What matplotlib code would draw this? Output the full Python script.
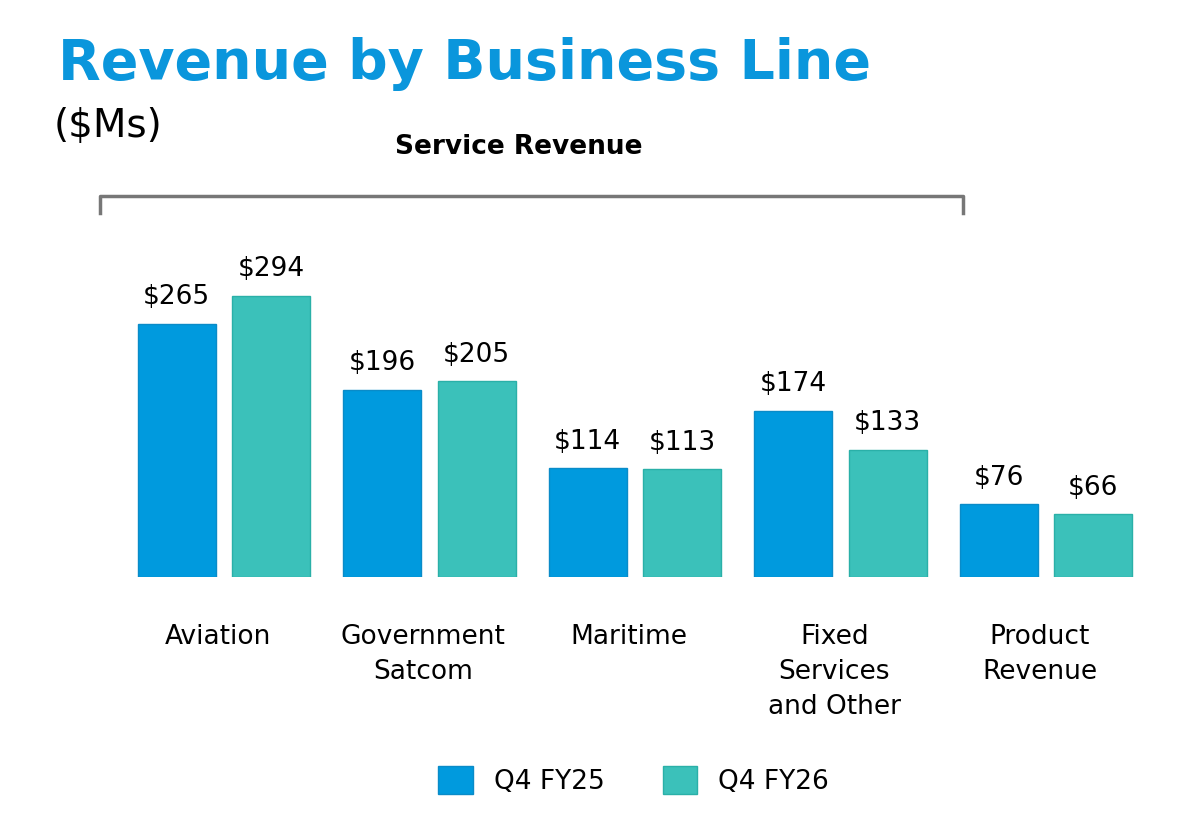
import matplotlib.pyplot as plt
import numpy as np
from matplotlib.lines import Line2D

# Revenue by business line, $Ms
categories = ['Aviation', 'Government\nSatcom', 'Maritime', 'Fixed\nServices\nand Other', 'Product\nRevenue']
q4_fy25 = [265, 196, 114, 174, 76]
q4_fy26 = [294, 205, 113, 133, 66]

blue = '#009ADE'
teal = '#3BC1BA'

fig = plt.figure(figsize=(12, 8.3), dpi=100)
ax = fig.add_axes([0.0833, 0.3048, 0.8833, 0.454])

x = np.arange(len(categories))
b1 = ax.bar(x - 0.23, q4_fy25, width=0.38, color=blue, edgecolor='#0A8BC8', label='Q4 FY25')
b2 = ax.bar(x + 0.23, q4_fy26, width=0.38, color=teal, edgecolor='#2AB0A8', label='Q4 FY26')

# value labels on top of bars
for bars in (b1, b2):
    for bar in bars:
        ax.text(bar.get_x() + bar.get_width() / 2, bar.get_height() + 14, f'${bar.get_height():.0f}',
                ha='center', va='bottom', fontsize=19)

ax.set_xlim(-0.603, 4.555)
ax.set_ylim(0, 394)
ax.set_xticks(x - 0.03)
ax.set_xticklabels(categories, fontsize=19, linespacing=1.45, va='top')
ax.tick_params(axis='x', length=0, pad=34)
ax.set_yticks([])
for s in ax.spines.values():
    s.set_visible(False)

# title and subtitles
fig.text(0.048, 0.905, 'Revenue by Business Line', fontsize=40, fontweight='bold', color='#0A96DC')
fig.text(0.045, 0.835, '($Ms)', fontsize=28)
fig.text(0.432, 0.815, 'Service Revenue', fontsize=19, fontweight='bold', ha='center')

# bracket over service revenue
bx = [100 / 1200, 100 / 1200, 963 / 1200, 963 / 1200]
by = [1 - 213 / 830, 1 - 196 / 830, 1 - 196 / 830, 1 - 213 / 830]
fig.add_artist(Line2D(bx, by, color='#777777', linewidth=2.5, transform=fig.transFigure))

fig.legend(handles=[b1, b2], loc='center', bbox_to_anchor=(0.528, 0.06), ncol=2, frameon=False,
           fontsize=19, handlelength=1.3, handleheight=1.3, columnspacing=2.2)

plt.savefig('out.png')
